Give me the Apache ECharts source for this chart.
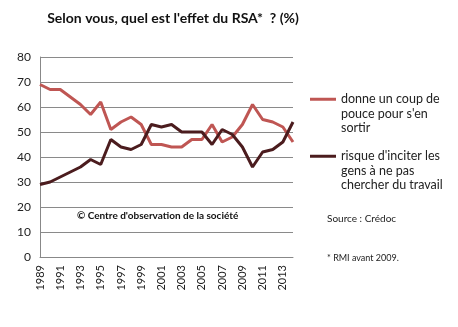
<!DOCTYPE html>
<html><head><meta charset="utf-8">
<script src="https://cdn.jsdelivr.net/npm/echarts@6/dist/echarts.min.js"></script>
<style>html,body{margin:0;padding:0;background:#fff}#c{width:458px;height:327px}</style>
</head><body><div id="c"></div>
<script>
const years = ['1989','1990','1991','1992','1993','1994','1995','1996','1997','1998','1999','2000','2001','2002','2003','2004','2005','2006','2007','2008','2009','2010','2011','2012','2013','2014'];
const coupDePouce = [69,67,67,64,61,57,62,51,54,56,53,45,45,44,44,47,47,53,46,48,53,61,55,54,52,46];
const risqueInciter = [29,30,32,34,36,39,37,47,44,43,45,53,52,53,50,50,50,45,51,49,44,36,42,43,46,54];
const yTicks = {min:0, max:80, interval:10};
const name1 = 'donne un coup de\npouce pour s\'en\nsortir';
const name2 = 'risque d\'inciter les\ngens à ne pas\nchercher du travail';
const FONT = 'Lato, "Open Sans", sans-serif';
const chart = echarts.init(document.getElementById('c'), null, {renderer:'canvas'});
const legendText = {fontFamily:FONT, fontSize:12.5, color:'#222', lineHeight:14.5};
const fmt = n => '\n\n' + n;
chart.setOption({
  animation:false,
  title:{text:'Selon vous, quel est l\'effet du RSA*  ? (%)', left:168, textAlign:'center', top:6,
    textStyle:{fontFamily:FONT, fontSize:14, fontWeight:'bold', color:'#111'}},
  grid:{left:40, right:165, top:57, bottom:70, containLabel:false},
  legend:[
    {orient:'vertical', left:305, top:58, itemWidth:26, itemHeight:3, itemGap:0, icon:'rect', data:[name1], formatter:fmt, textStyle:legendText},
    {orient:'vertical', left:305, top:115, itemWidth:26, itemHeight:3, itemGap:0, icon:'rect', data:[name2], formatter:fmt, textStyle:legendText}
  ],
  xAxis:{type:'category', data:years, boundaryGap:false,
    axisLine:{lineStyle:{color:'#888'}}, axisTick:{show:false},
    axisLabel:{interval:1, rotate:90, fontFamily:FONT, fontSize:11, color:'#222', margin:8}},
  yAxis:{type:'value', min:yTicks.min, max:yTicks.max, interval:yTicks.interval,
    axisLine:{show:true, lineStyle:{color:'#888'}}, axisTick:{show:false},
    splitLine:{lineStyle:{color:'#8a8a8a'}},
    axisLabel:{fontFamily:FONT, fontSize:12, color:'#222', margin:9}},
  series:[
    {name:name1, type:'line', data:coupDePouce, symbol:'none', lineStyle:{width:3, color:'#bf5653'}, itemStyle:{color:'#bf5653'}},
    {name:name2, type:'line', data:risqueInciter, symbol:'none', lineStyle:{width:3, color:'#4b1c1e'}, itemStyle:{color:'#4b1c1e'}}
  ],
  graphic:[
    {type:'text', left:77, top:211, style:{text:'© Centre d\'observation de la société', fontFamily:FONT, fontSize:10, fontWeight:'bold', fill:'#111'}},
    {type:'text', left:327, top:214, style:{text:'Source : Crédoc', fontFamily:FONT, fontSize:10, fill:'#222'}},
    {type:'text', left:327, top:254, style:{text:'* RMI avant 2009.', fontFamily:FONT, fontSize:9, fill:'#222'}}
  ]
});
</script></body></html>
